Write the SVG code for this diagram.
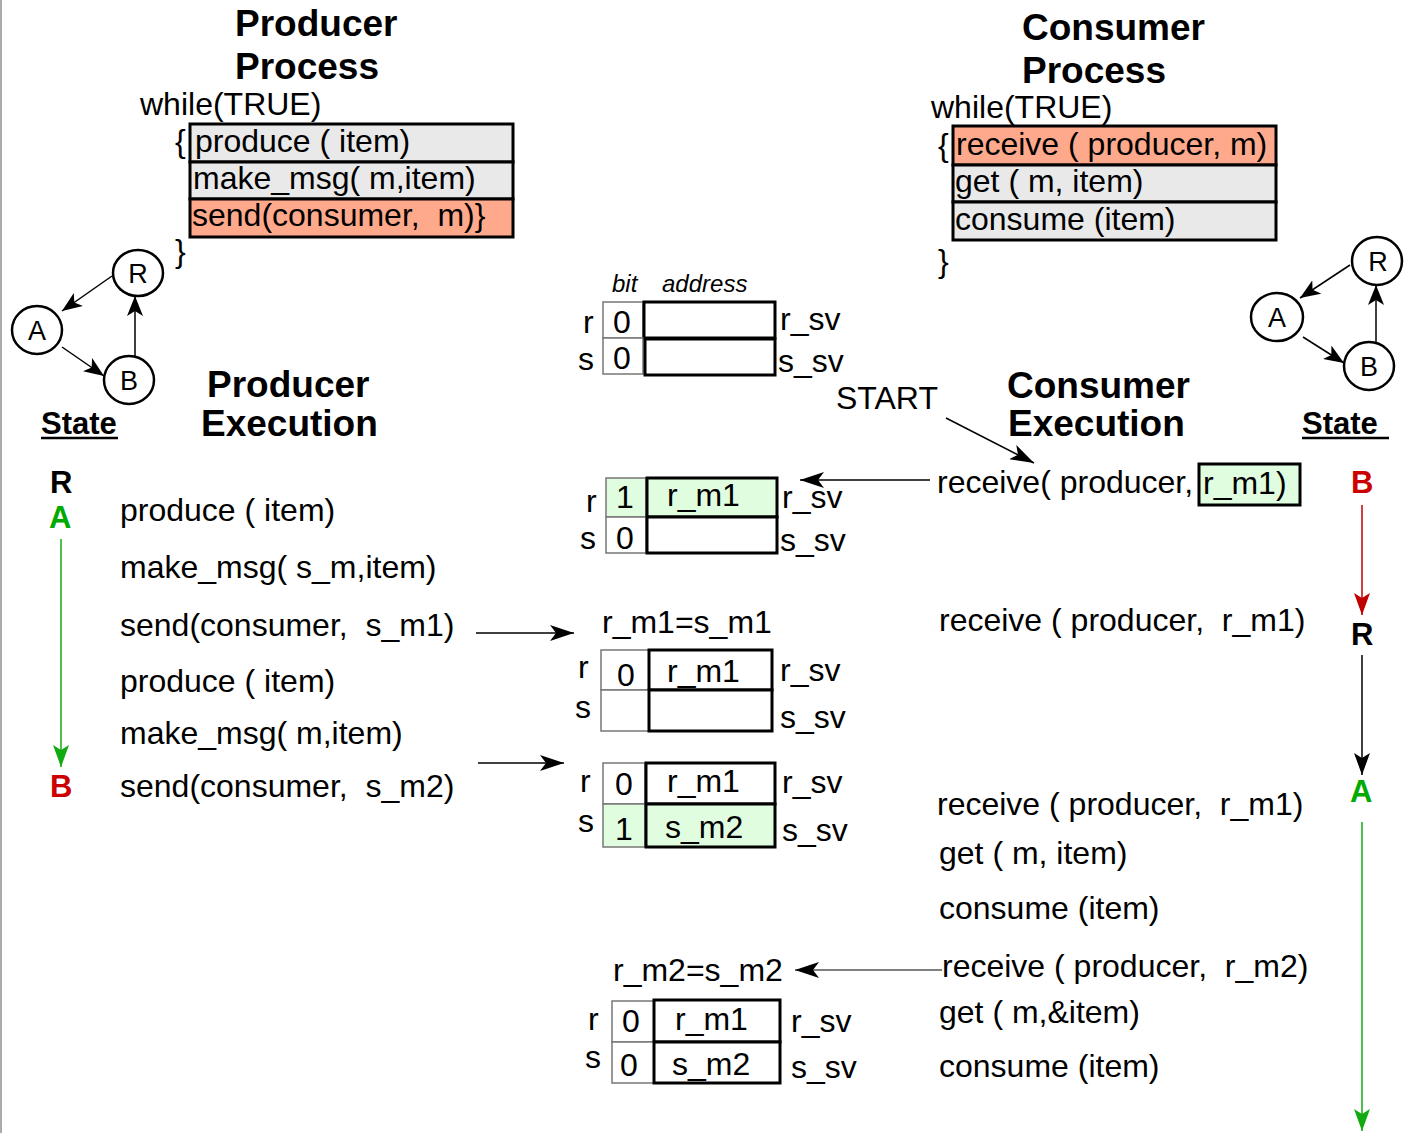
<svg xmlns="http://www.w3.org/2000/svg" width="1408" height="1133" viewBox="0 0 1408 1133" xml:space="preserve">
  <style>
    text { font-family: "Liberation Sans", Arial, sans-serif; fill: #000; white-space: pre; }
    .t { font-size: 32px; }
    .h { font-size: 37px; font-weight: bold; }
    .st { font-size: 31px; font-weight: bold; }
    .sm { font-size: 24px; font-style: italic; }
    .cl { font-size: 27px; }
    .code-gray { fill: #e9e9e9; stroke: #000; stroke-width: 3; }
    .code-hot { fill: #ffa98c; stroke: #000; stroke-width: 3; }
    .bit { fill: #fff; stroke: #777; stroke-width: 1.5; }
    .bit-on { fill: #e0fde0; stroke: #777; stroke-width: 1.5; }
    .addr { fill: #fff; stroke: #000; stroke-width: 3; }
    .addr-on { fill: #e0fde0; stroke: #000; stroke-width: 3; }
    .state { fill: #fff; stroke: #000; stroke-width: 2.5; }
    .ln { stroke: #000; stroke-width: 1.5; fill: none; }
    .lg { stroke: #555; stroke-width: 1.5; fill: none; }
    .green-ln { stroke: #11aa11; stroke-width: 1.5; fill: none; }
    .red-ln { stroke: #c00000; stroke-width: 1.5; fill: none; }
    .green { fill: #00aa00; }
    .red { fill: #cc0000; }
  </style>
  <defs>
    <marker id="ah" markerUnits="userSpaceOnUse" markerWidth="26" markerHeight="16" refX="24" refY="8" orient="auto">
      <path d="M0,0 L24,8 L0,16 L6,8 z" fill="#000"/>
    </marker>
    <marker id="ah-s" markerUnits="userSpaceOnUse" markerWidth="22" markerHeight="16" refX="20" refY="8" orient="auto">
      <path d="M0,0 L20,8 L0,16 L5,8 z" fill="#000"/>
    </marker>
    <marker id="vg" markerUnits="userSpaceOnUse" markerWidth="24" markerHeight="16" refX="22" refY="8" orient="auto">
      <path d="M0,0 L22,8 L0,16 L5,8 z" fill="#11aa11"/>
    </marker>
    <marker id="vr" markerUnits="userSpaceOnUse" markerWidth="24" markerHeight="16" refX="22" refY="8" orient="auto">
      <path d="M0,0 L22,8 L0,16 L5,8 z" fill="#c00000"/>
    </marker>
    <marker id="vk" markerUnits="userSpaceOnUse" markerWidth="24" markerHeight="16" refX="22" refY="8" orient="auto">
      <path d="M0,0 L22,8 L0,16 L5,8 z" fill="#000"/>
    </marker>
  </defs>

  <!-- page edge -->
  <line x1="1" y1="0" x2="1" y2="1133" stroke="#aaa" stroke-width="2"/>

  <!-- producer process code -->
  <g id="producer-process">
    <text class="h" x="235" y="36">Producer</text>
    <text class="h" x="235" y="79">Process</text>
    <text class="t" x="140" y="115">while(TRUE)</text>
    <text class="t" x="175" y="152">{</text>
    <rect class="code-gray" x="190" y="124" width="323" height="38"/>
    <text class="t" x="195" y="152">produce ( item)</text>
    <rect class="code-gray" x="190" y="162" width="323" height="37"/>
    <text class="t" x="193" y="189">make_msg( m,item)</text>
    <rect class="code-hot" x="190" y="199" width="323" height="38"/>
    <text class="t" x="192" y="226">send(consumer,  m)}</text>
    <text class="t" x="175" y="262">}</text>
  </g>

  <!-- consumer process code -->
  <g id="consumer-process">
    <text class="h" x="1022" y="40">Consumer</text>
    <text class="h" x="1022" y="83">Process</text>
    <text class="t" x="931" y="118">while(TRUE)</text>
    <text class="t" x="938" y="156">{</text>
    <rect class="code-hot" x="953" y="126" width="323" height="39"/>
    <text class="t" x="956" y="155">receive ( producer, m)</text>
    <rect class="code-gray" x="953" y="165" width="323" height="37"/>
    <text class="t" x="955" y="192">get ( m, item)</text>
    <rect class="code-gray" x="953" y="202" width="323" height="38"/>
    <text class="t" x="955" y="230">consume (item)</text>
    <text class="t" x="938" y="272">}</text>
  </g>

  <!-- producer state graph -->
  <g id="p-state-R">
    <ellipse class="state" cx="138" cy="273" rx="25" ry="23"/>
    <text class="cl" x="138" y="283" text-anchor="middle">R</text>
  </g>
  <g id="p-state-A">
    <ellipse class="state" cx="37" cy="330" rx="25" ry="24"/>
    <text class="cl" x="37" y="340" text-anchor="middle">A</text>
  </g>
  <g id="p-state-B">
    <ellipse class="state" cx="129" cy="380" rx="25" ry="24"/>
    <text class="cl" x="129" y="390" text-anchor="middle">B</text>
  </g>
  <g id="p-state-title">
    <text class="st" x="41" y="434">State</text>
    <line x1="41" y1="438" x2="118" y2="438" stroke="#000" stroke-width="2.5"/>
  </g>

  <!-- consumer state graph -->
  <g id="c-state-R">
    <ellipse class="state" cx="1377" cy="261" rx="25" ry="24"/>
    <text class="cl" x="1378" y="271" text-anchor="middle">R</text>
  </g>
  <g id="c-state-A">
    <ellipse class="state" cx="1277" cy="317" rx="26" ry="24"/>
    <text class="cl" x="1277" y="327" text-anchor="middle">A</text>
  </g>
  <g id="c-state-B">
    <ellipse class="state" cx="1369" cy="366" rx="25" ry="24"/>
    <text class="cl" x="1369" y="376" text-anchor="middle">B</text>
  </g>
  <g id="c-state-title">
    <text class="st" x="1302" y="434">State</text>
    <line x1="1302" y1="438" x2="1389" y2="438" stroke="#000" stroke-width="2.5"/>
  </g>

  <!-- execution headings -->
  <g id="producer-exec-title">
    <text class="h" x="207" y="397">Producer</text>
    <text class="h" x="201" y="436">Execution</text>
  </g>
  <g id="consumer-exec-title">
    <text class="h" x="1007" y="398">Consumer</text>
    <text class="h" x="1008" y="436">Execution</text>
  </g>

  <!-- producer execution trace -->
  <g id="producer-trace">
    <text class="st" x="50" y="493">R</text>
    <text class="st green" x="49" y="528">A</text>
    <text class="st red" x="50" y="797">B</text>
    <text class="t" x="120" y="521">produce ( item)</text>
    <text class="t" x="120" y="578">make_msg( s_m,item)</text>
    <text class="t" x="120" y="636">send(consumer,  s_m1)</text>
    <text class="t" x="120" y="692">produce ( item)</text>
    <text class="t" x="120" y="744">make_msg( m,item)</text>
    <text class="t" x="120" y="797">send(consumer,  s_m2)</text>
  </g>

  <!-- consumer execution trace -->
  <g id="consumer-trace">
    <text class="t" x="836" y="409">START</text>
    <text class="t" x="937" y="493">receive( producer,</text>
    <rect class="addr-on" x="1199" y="464" width="101" height="41"/>
    <text class="t" x="1203" y="494">r_m1)</text>
    <text class="t" x="939" y="631">receive ( producer,  r_m1)</text>
    <text class="t" x="937" y="815">receive ( producer,  r_m1)</text>
    <text class="t" x="939" y="864">get ( m, item)</text>
    <text class="t" x="939" y="919">consume (item)</text>
    <text class="t" x="942" y="977">receive ( producer,  r_m2)</text>
    <text class="t" x="939" y="1023">get ( m,&amp;item)</text>
    <text class="t" x="939" y="1077">consume (item)</text>
    <text class="st red" x="1351" y="493">B</text>
    <text class="st" x="1351" y="645">R</text>
    <text class="st green" x="1350" y="802">A</text>
  </g>

  <!-- mailbox table: initial -->
  <g id="table-0">
    <text class="sm" x="612" y="292">bit</text>
    <text class="sm" x="662" y="292">address</text>
    <text class="t" x="583" y="333">r</text>
    <rect class="bit" x="603" y="302" width="40" height="36"/>
    <text class="t" x="613" y="333">0</text>
    <rect class="addr" x="644" y="302" width="131" height="36"/>
    <text class="t" x="780" y="330">r_sv</text>
    <text class="t" x="578" y="370">s</text>
    <rect class="bit" x="603" y="338" width="40" height="36"/>
    <text class="t" x="613" y="369">0</text>
    <rect class="addr" x="645" y="339" width="130" height="36"/>
    <text class="t" x="778" y="372">s_sv</text>
  </g>

  <!-- mailbox table: receive posted -->
  <g id="table-1">
    <text class="t" x="586" y="512">r</text>
    <rect class="bit-on" x="606" y="478" width="40" height="39"/>
    <text class="t" x="616" y="508">1</text>
    <rect class="addr-on" x="647" y="478" width="130" height="39"/>
    <text class="t" x="667" y="506">r_m1</text>
    <text class="t" x="782" y="508">r_sv</text>
    <text class="t" x="580" y="549">s</text>
    <rect class="bit" x="606" y="517" width="40" height="36"/>
    <text class="t" x="616" y="549">0</text>
    <rect class="addr" x="647" y="517" width="130" height="36"/>
    <text class="t" x="780" y="551">s_sv</text>
  </g>

  <!-- mailbox table: first send matched -->
  <g id="table-2">
    <text class="t" x="602" y="633">r_m1=s_m1</text>
    <text class="t" x="578" y="678">r</text>
    <rect class="bit" x="601" y="650" width="48" height="40"/>
    <text class="t" x="617" y="686">0</text>
    <rect class="addr" x="649" y="650" width="123" height="40"/>
    <text class="t" x="667" y="682">r_m1</text>
    <text class="t" x="780" y="681">r_sv</text>
    <text class="t" x="575" y="718">s</text>
    <rect class="bit" x="601" y="690" width="48" height="41"/>
    <rect class="addr" x="649" y="690" width="123" height="41"/>
    <text class="t" x="780" y="728">s_sv</text>
  </g>

  <!-- mailbox table: second send pending -->
  <g id="table-3">
    <text class="t" x="580" y="792">r</text>
    <rect class="bit" x="603" y="763" width="42" height="41"/>
    <text class="t" x="615" y="795">0</text>
    <rect class="addr" x="646" y="763" width="129" height="41"/>
    <text class="t" x="667" y="792">r_m1</text>
    <text class="t" x="782" y="793">r_sv</text>
    <text class="t" x="578" y="832">s</text>
    <rect class="bit-on" x="603" y="804" width="42" height="43"/>
    <text class="t" x="615" y="840">1</text>
    <rect class="addr-on" x="646" y="804" width="129" height="43"/>
    <text class="t" x="665" y="838">s_m2</text>
    <text class="t" x="782" y="841">s_sv</text>
  </g>

  <!-- mailbox table: second receive matched -->
  <g id="table-4">
    <text class="t" x="613" y="981">r_m2=s_m2</text>
    <text class="t" x="588" y="1030">r</text>
    <rect class="bit" x="612" y="1001" width="42" height="41"/>
    <text class="t" x="622" y="1032">0</text>
    <rect class="addr" x="654" y="1000" width="126" height="42"/>
    <text class="t" x="675" y="1030">r_m1</text>
    <text class="t" x="791" y="1032">r_sv</text>
    <text class="t" x="585" y="1068">s</text>
    <rect class="bit" x="612" y="1042" width="42" height="41"/>
    <text class="t" x="620" y="1076">0</text>
    <rect class="addr" x="654" y="1042" width="126" height="41"/>
    <text class="t" x="672" y="1075">s_m2</text>
    <text class="t" x="791" y="1078">s_sv</text>
  </g>

  <!-- connectors -->
  <g id="connectors">
    <!-- state graph transitions -->
    <line class="ln" x1="112" y1="276" x2="62" y2="311" marker-end="url(#ah-s)"/>
    <line class="ln" x1="62" y1="347" x2="104" y2="376" marker-end="url(#ah-s)"/>
    <line class="ln" x1="135" y1="357" x2="135" y2="296" marker-end="url(#ah-s)"/>
    <line class="ln" x1="1350" y1="265" x2="1300" y2="298" marker-end="url(#ah-s)"/>
    <line class="ln" x1="1303" y1="337" x2="1344" y2="363" marker-end="url(#ah-s)"/>
    <line class="ln" x1="1376" y1="343" x2="1376" y2="285" marker-end="url(#ah-s)"/>
    <!-- message flow -->
    <line class="ln" x1="946" y1="418" x2="1034" y2="463" marker-end="url(#ah)"/>
    <line class="ln" x1="930" y1="480" x2="800" y2="480" marker-end="url(#ah)"/>
    <line class="ln" x1="476" y1="633" x2="574" y2="633" marker-end="url(#ah)"/>
    <line class="ln" x1="478" y1="763" x2="564" y2="763" marker-end="url(#ah)"/>
    <line class="lg" x1="942" y1="970" x2="795" y2="970" marker-end="url(#ah)"/>
    <!-- state timelines -->
    <line class="green-ln" x1="61" y1="539" x2="61" y2="767" marker-end="url(#vg)"/>
    <line class="red-ln" x1="1362" y1="505" x2="1362" y2="615" marker-end="url(#vr)"/>
    <line class="ln" x1="1362" y1="655" x2="1362" y2="775" marker-end="url(#vk)"/>
    <line class="green-ln" x1="1362" y1="822" x2="1362" y2="1131" marker-end="url(#vg)"/>
  </g>
</svg>
